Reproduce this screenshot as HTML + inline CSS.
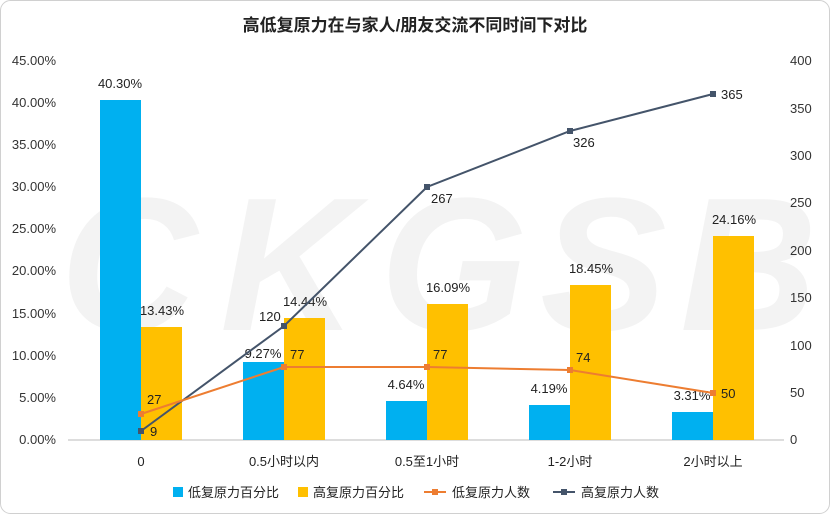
<!DOCTYPE html>
<html><head><meta charset="utf-8"><style>
body{margin:0;background:#fff;}
svg{display:block;font-family:"Liberation Sans","Noto Sans CJK SC",sans-serif;}
</style></head><body>
<svg width="830" height="514" viewBox="0 0 830 514">
<rect x="0.5" y="0.5" width="829" height="513" rx="10" fill="#fff" stroke="#d0d0d0"/>
<text x="415" y="31" text-anchor="middle" font-size="17" font-weight="bold" fill="#222">高低复原力在与家人/朋友交流不同时间下对比</text>
<g font-size="190" font-weight="bold" fill="#f3f3f3" font-style="italic">
<text x="60" y="330">C</text><text x="220" y="330">K</text><text x="380" y="330">G</text><text x="540" y="330">S</text><text x="680" y="330">B</text>
</g>
<g font-size="13" fill="#333" text-anchor="end">
<text x="56" y="444">0.00%</text><text x="56" y="402">5.00%</text><text x="56" y="360">10.00%</text><text x="56" y="318">15.00%</text><text x="56" y="275">20.00%</text><text x="56" y="233">25.00%</text><text x="56" y="191">30.00%</text><text x="56" y="149">35.00%</text><text x="56" y="107">40.00%</text><text x="56" y="65">45.00%</text>
</g>
<g font-size="13" fill="#333">
<text x="790" y="444">0</text><text x="790" y="397">50</text><text x="790" y="350">100</text><text x="790" y="302">150</text><text x="790" y="255">200</text><text x="790" y="207">250</text><text x="790" y="160">300</text><text x="790" y="113">350</text><text x="790" y="65">400</text>
</g>
<line x1="68" y1="440" x2="784" y2="440" stroke="#bbb"/>
<g fill="#00B0F0">
<rect x="100" y="100" width="41" height="340"/>
<rect x="243" y="362" width="41" height="78"/>
<rect x="386" y="401" width="41" height="39"/>
<rect x="529" y="405" width="41" height="35"/>
<rect x="672" y="412" width="41" height="28"/>
</g>
<g fill="#FFC000">
<rect x="141" y="327" width="41" height="113"/>
<rect x="284" y="318" width="41" height="122"/>
<rect x="427" y="304" width="41" height="136"/>
<rect x="570" y="285" width="41" height="155"/>
<rect x="713" y="236" width="41" height="204"/>
</g>
<g font-size="13" fill="#222" text-anchor="middle">
<text x="120" y="88">40.30%</text><text x="162" y="315">13.43%</text>
<text x="263" y="358">9.27%</text><text x="305" y="306">14.44%</text>
<text x="406" y="389">4.64%</text><text x="448" y="292">16.09%</text>
<text x="549" y="393">4.19%</text><text x="591" y="273">18.45%</text>
<text x="692" y="400">3.31%</text><text x="734" y="224">24.16%</text>
</g>
<polyline points="141,431 284,326 427,187 570,131 713,94" fill="none" stroke="#44546A" stroke-width="2"/>
<polyline points="141,414 284,367 427,367 570,370 713,393" fill="none" stroke="#ED7D31" stroke-width="2"/>
<g fill="#44546A"><rect x="138" y="428" width="6" height="6"/><rect x="281" y="323" width="6" height="6"/><rect x="424" y="184" width="6" height="6"/><rect x="567" y="128" width="6" height="6"/><rect x="710" y="91" width="6" height="6"/></g>
<g fill="#ED7D31"><rect x="138" y="411" width="6" height="6"/><rect x="281" y="364" width="6" height="6"/><rect x="424" y="364" width="6" height="6"/><rect x="567" y="367" width="6" height="6"/><rect x="710" y="390" width="6" height="6"/></g>
<g font-size="13" fill="#222">
<text x="150" y="436">9</text><text x="259" y="321">120</text><text x="431" y="203">267</text><text x="573" y="147">326</text><text x="721" y="99">365</text>
<text x="147" y="404">27</text><text x="290" y="359">77</text><text x="433" y="359">77</text><text x="576" y="362">74</text><text x="721" y="398">50</text>
</g>
<g font-size="13" fill="#222" text-anchor="middle">
<text x="141" y="466">0</text><text x="284" y="466">0.5小时以内</text><text x="427" y="466">0.5至1小时</text><text x="570" y="466">1-2小时</text><text x="713" y="466">2小时以上</text>
</g>
<g font-size="13" fill="#222">
<rect x="173" y="487" width="10" height="10" fill="#00B0F0"/><text x="188" y="497">低复原力百分比</text>
<rect x="298" y="487" width="10" height="10" fill="#FFC000"/><text x="313" y="497">高复原力百分比</text>
<line x1="424" y1="492" x2="446" y2="492" stroke="#ED7D31" stroke-width="2"/><rect x="432" y="489" width="6" height="6" fill="#ED7D31"/><text x="452" y="497">低复原力人数</text>
<line x1="553" y1="492" x2="575" y2="492" stroke="#44546A" stroke-width="2"/><rect x="561" y="489" width="6" height="6" fill="#44546A"/><text x="581" y="497">高复原力人数</text>
</g>
</svg>
</body></html>
